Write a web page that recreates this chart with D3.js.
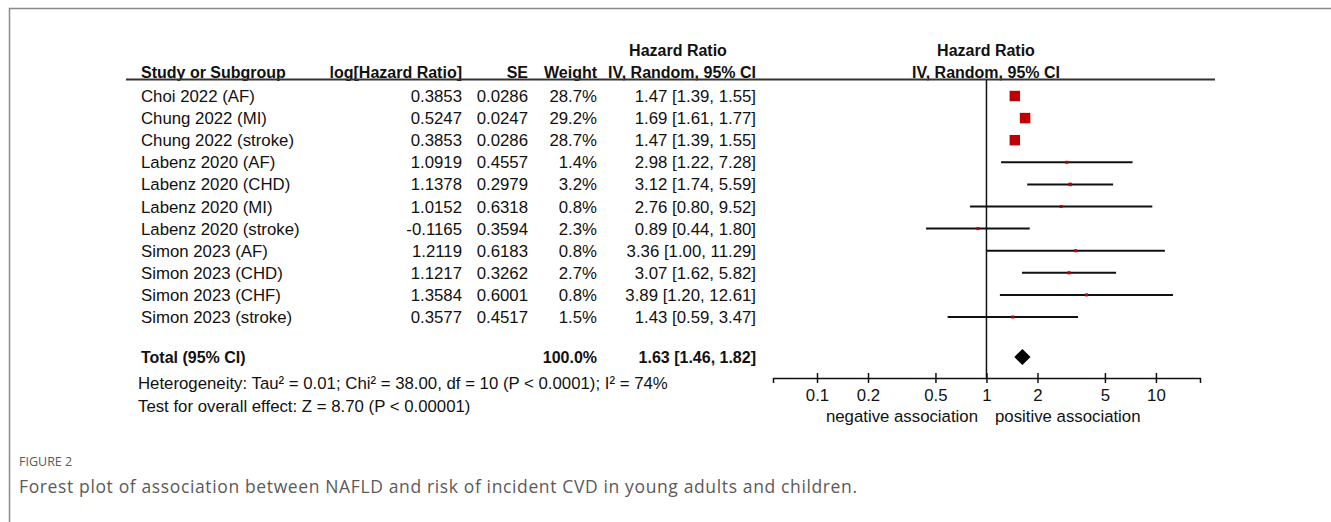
<!DOCTYPE html>
<html>
<head>
<meta charset="utf-8">
<script src="https://cdn.jsdelivr.net/npm/d3@7"></script>
<style>
  html, body { margin: 0; padding: 0; background: #fff; }
  svg { display: block; }
  .tbl { font-family: "Liberation Sans", Arial, sans-serif; font-size: 16.8px; fill: #111; }
  .bold { font-weight: bold; font-size: 16px; }
</style>
</head>
<body>
<script>
// Study rows
const studies = [
  "Choi 2022 (AF)", "Chung 2022 (MI)", "Chung 2022 (stroke)", "Labenz 2020 (AF)",
  "Labenz 2020 (CHD)", "Labenz 2020 (MI)", "Labenz 2020 (stroke)", "Simon 2023 (AF)",
  "Simon 2023 (CHD)", "Simon 2023 (CHF)", "Simon 2023 (stroke)"
];
const logHR = [0.3853, 0.5247, 0.3853, 1.0919, 1.1378, 1.0152, -0.1165, 1.2119, 1.1217, 1.3584, 0.3577];
const se = [0.0286, 0.0247, 0.0286, 0.4557, 0.2979, 0.6318, 0.3594, 0.6183, 0.3262, 0.6001, 0.4517];
const weight = [28.7, 29.2, 28.7, 1.4, 3.2, 0.8, 2.3, 0.8, 2.7, 0.8, 1.5];
const hr = [1.47, 1.69, 1.47, 2.98, 3.12, 2.76, 0.89, 3.36, 3.07, 3.89, 1.43];
const lower = [1.39, 1.61, 1.39, 1.22, 1.74, 0.80, 0.44, 1.00, 1.62, 1.20, 0.59];
const upper = [1.55, 1.77, 1.55, 7.28, 5.59, 9.52, 1.80, 11.29, 5.82, 12.61, 3.47];

// Pooled estimate
const totalLabel = "Total (95% CI)";
const totalWeight = 100.0;
const totalHR = 1.63;
const totalLower = 1.46;
const totalUpper = 1.82;
const heterogeneity = "Heterogeneity: Tau\u00B2 = 0.01; Chi\u00B2 = 38.00, df = 10 (P < 0.0001); I\u00B2 = 74%";
const overallEffect = "Test for overall effect: Z = 8.70 (P < 0.00001)";

// Axis
const tickValues = [0.1, 0.2, 0.5, 1, 2, 5, 10];
const axisExtent = [0.055, 18.2];
const leftLabel = "negative association";
const rightLabel = "positive association";

const figLabel = "FIGURE 2";
const caption = "Forest plot of association between NAFLD and risk of incident CVD in young adults and children.";

const W = 1331, H = 522;
const svg = d3.select("body").append("svg").attr("width", W).attr("height", H);

// figure frame
svg.append("path")
  .attr("d", `M${W},8.5 H9.5 V${H}`)
  .attr("fill", "none").attr("stroke", "#8a8a8a").attr("stroke-width", 1.5);

const x = d3.scaleLog().domain(axisExtent).range([773, 1200]);
const rowY = d3.scaleLinear().domain([0, 1]).range([96, 118.1]);
const totalY = 357;
const axisY = 378;

const g = svg.append("g").attr("class", "tbl");

// column headers
const hdr = [
  { t: "Study or Subgroup", x: 141, a: "start" },
  { t: "log[Hazard Ratio]", x: 462, a: "end" },
  { t: "SE", x: 528, a: "end" },
  { t: "Weight", x: 597, a: "end" },
  { t: "IV, Random, 95% CI", x: 682, a: "middle" },
  { t: "IV, Random, 95% CI", x: 986, a: "middle" }
];
g.selectAll("text.h2").data(hdr).join("text")
  .attr("class", "bold").attr("x", d => d.x).attr("y", 78)
  .attr("text-anchor", d => d.a).text(d => d.t);
g.selectAll("text.h1").data([678, 986]).join("text")
  .attr("class", "bold").attr("x", d => d).attr("y", 55.5)
  .attr("text-anchor", "middle").text("Hazard Ratio");

svg.append("line").attr("x1", 126).attr("x2", 1215).attr("y1", 79.5).attr("y2", 79.5)
  .attr("stroke", "#333").attr("stroke-width", 2);

// rows
const rows = studies.map((s, i) => ({
  s, lhr: logHR[i], se: se[i], w: weight[i], hr: hr[i], lo: lower[i], hi: upper[i], i
}));
const rg = g.selectAll("g.row").data(rows).join("g")
  .attr("transform", d => `translate(0,${rowY(d.i) + 6})`);
rg.append("text").attr("x", 141).text(d => d.s);
rg.append("text").attr("x", 462).attr("text-anchor", "end").text(d => d.lhr.toFixed(4));
rg.append("text").attr("x", 528).attr("text-anchor", "end").text(d => d.se.toFixed(4));
rg.append("text").attr("x", 597).attr("text-anchor", "end").text(d => d.w.toFixed(1) + "%");
rg.append("text").attr("x", 756).attr("text-anchor", "end")
  .text(d => `${d.hr.toFixed(2)} [${d.lo.toFixed(2)}, ${d.hi.toFixed(2)}]`);

// totals
g.append("text").attr("class", "bold").attr("x", 141).attr("y", totalY + 6).text(totalLabel);
g.append("text").attr("class", "bold").attr("x", 597).attr("y", totalY + 6)
  .attr("text-anchor", "end").text(totalWeight.toFixed(1) + "%");
g.append("text").attr("class", "bold").attr("x", 756).attr("y", totalY + 6)
  .attr("text-anchor", "end")
  .text(`${totalHR.toFixed(2)} [${totalLower.toFixed(2)}, ${totalUpper.toFixed(2)}]`);
g.append("text").attr("x", 138).attr("y", 389).text(heterogeneity);
g.append("text").attr("x", 138).attr("y", 412).text(overallEffect);

// null line
svg.append("line").attr("x1", x(1)).attr("x2", x(1)).attr("y1", 80).attr("y2", axisY)
  .attr("stroke", "#111").attr("stroke-width", 1.5);

// confidence intervals
const plot = svg.append("g");
plot.selectAll("line.ci").data(rows).join("line")
  .attr("x1", d => x(d.lo)).attr("x2", d => x(d.hi))
  .attr("y1", d => rowY(d.i)).attr("y2", d => rowY(d.i))
  .attr("stroke", "#111").attr("stroke-width", 2);

// weight squares
const side = d3.scaleSqrt().domain([0, 29.2]).range([0, 10.5]);
const sz = w => Math.max(3, side(w));
plot.selectAll("rect.sq").data(rows).join("rect")
  .attr("x", d => x(d.hr) - sz(d.w) / 2)
  .attr("y", d => rowY(d.i) - sz(d.w) / 2)
  .attr("width", d => sz(d.w))
  .attr("height", d => sz(d.w))
  .attr("fill", "#c00000");

// pooled diamond
plot.append("path")
  .attr("d", `M${x(totalLower)},${totalY} L${x(totalHR)},${totalY - 8} L${x(totalUpper)},${totalY} L${x(totalHR)},${totalY + 8} Z`)
  .attr("fill", "#000");

// axis
const ax = svg.append("g").attr("transform", `translate(0,${axisY})`)
  .call(d3.axisBottom(x).tickValues(tickValues).tickSizeOuter(0).tickSize(5)
    .tickFormat(d => String(d)));
ax.select(".domain").attr("stroke", "#111").attr("stroke-width", 1.5);
ax.selectAll(".tick line").attr("y1", -5).attr("y2", 5).attr("stroke", "#111").attr("stroke-width", 1.5);
ax.selectAll(".tick text").attr("y", 11).attr("dy", "0.71em")
  .attr("font-family", "Liberation Sans, Arial, sans-serif").attr("font-size", 16.8).attr("fill", "#111");

g.append("text").attr("x", 978).attr("y", 422).attr("text-anchor", "end").text(leftLabel);
g.append("text").attr("x", 995).attr("y", 422).text(rightLabel);

// caption
svg.append("text").attr("x", 19).attr("y", 466)
  .attr("font-family", "Open Sans, sans-serif").attr("font-size", 12.5).attr("fill", "#5a5a5a")
  .text(figLabel);
svg.append("text").attr("x", 19).attr("y", 492.5)
  .attr("font-family", "Open Sans, sans-serif").attr("font-size", 17.5).attr("fill", "#5a5a5a")
  .attr("letter-spacing", 0.63)
  .text(caption);
</script>
</body>
</html>
